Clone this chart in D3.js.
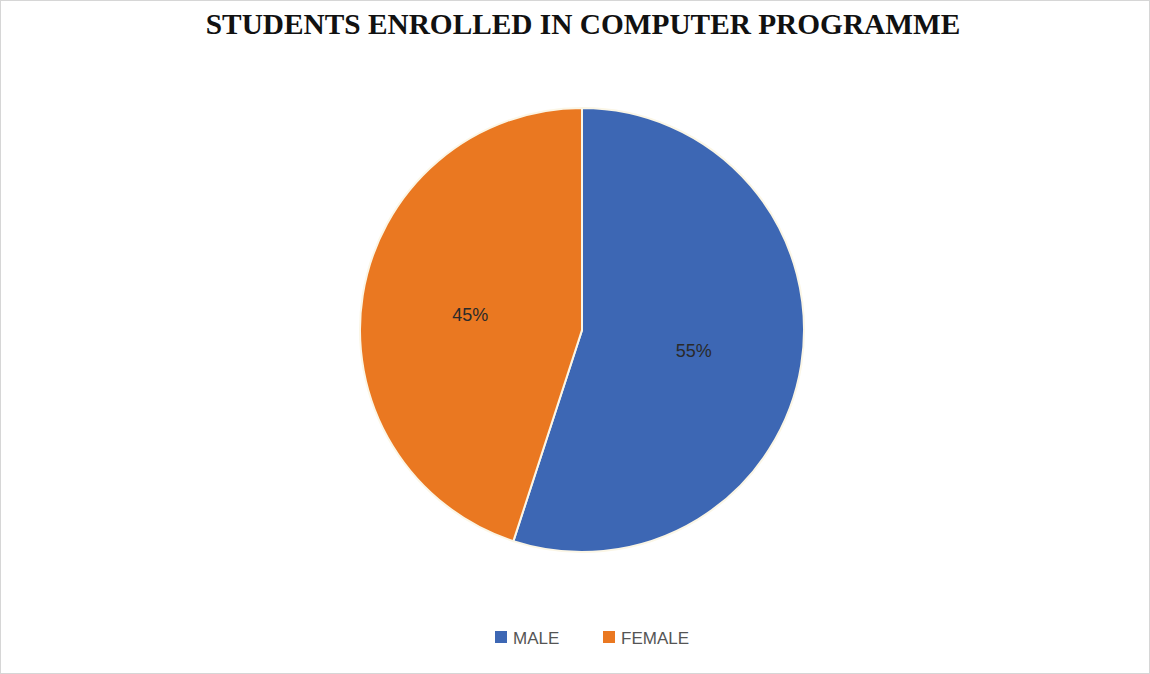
<!DOCTYPE html>
<html><head><meta charset="utf-8">
<script src="https://cdn.jsdelivr.net/npm/d3@7"></script>
<style>body{margin:0;background:#fff}svg{display:block}</style>
</head><body>
<svg id="c" width="1150" height="674"></svg>
<script>
const categories = ["MALE", "FEMALE"];
const values = [55, 45];
const colors = ["#3D67B4", "#EA7821"];
const title = "STUDENTS ENROLLED IN COMPUTER PROGRAMME";

const svg = d3.select("#c");
const W = 1150, H = 674;
svg.append("rect").attr("x",0.5).attr("y",0.5).attr("width",W-1).attr("height",H-1)
  .attr("fill","#fff").attr("stroke","#d6d6d6").attr("stroke-width",1);

const t = svg.append("text").attr("x",583).attr("y",34).attr("text-anchor","middle")
  .attr("font-family","Liberation Serif, Times New Roman, serif").attr("font-weight","bold")
  .attr("font-size",26).attr("fill","#111").text(title);
const tw = t.node().getComputedTextLength();
t.attr("font-size", 26*755/tw);

const cx = 582, cy = 330, r = 222;
const data = categories.map((c,i)=>({cat:c, v:values[i], col:colors[i]}));
const pie = d3.pie().value(d=>d.v).sort(null);
const arc = d3.arc().innerRadius(0).outerRadius(r);
const labelArc = d3.arc().innerRadius(r*0.51).outerRadius(r*0.51);
const g = svg.append("g").attr("transform",`translate(${cx},${cy})`);
const arcs = pie(data);
g.selectAll("path").data(arcs).join("path").attr("d",arc)
  .attr("fill",d=>d.data.col).attr("stroke","#fbf6e6").attr("stroke-width",2);
const total = d3.sum(values);
g.selectAll("text").data(arcs).join("text")
  .attr("transform",d=>`translate(${labelArc.centroid(d)})`)
  .attr("dy", 3)
  .attr("text-anchor","middle").attr("dominant-baseline","central")
  .attr("font-family","Liberation Sans, Arial, sans-serif").attr("font-size",18)
  .attr("fill","#2a2a2a").text(d=>Math.round(d.data.v/total*100)+"%");

// legend
const leg = svg.append("g").attr("transform","translate(495,637)");
const offs = [0, 108];
data.forEach((d,i)=>{
  const it = leg.append("g").attr("transform",`translate(${offs[i]},0)`);
  it.append("rect").attr("x",0).attr("y",-6).attr("width",12).attr("height",12).attr("fill",d.col);
  it.append("text").attr("x",18).attr("y",1).attr("dominant-baseline","central")
    .attr("font-family","Liberation Sans, Arial, sans-serif").attr("font-size",17)
    .attr("fill","#555").text(d.cat);
});
</script>
</body></html>
